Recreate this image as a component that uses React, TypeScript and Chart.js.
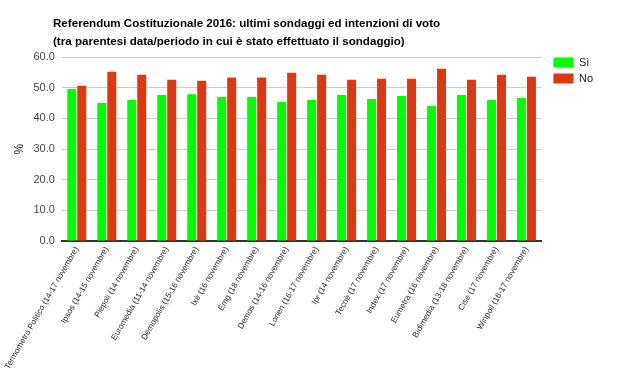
import React, { useEffect, useRef } from "react";
import { Chart, registerables } from "chart.js";

Chart.register(...registerables);

const categories = [
  "Termometro Politico (14-17 novembre)",
  "Ipsos (14-15 novembre)",
  "Piepoli (14 novembre)",
  "Euromedia (11-14 novembre)",
  "Demopolis (15-16 novembre)",
  "Ixè (16 novembre)",
  "Emg (18 novembre)",
  "Demos (14-16 novembre)",
  "Lorien (16-17 novembre)",
  "Ipr (14 novembre)",
  "Tecnè (17 novembre)",
  "Index (17 novembre)",
  "Eumetra (16 novembre)",
  "Bidimedia (13-18 novembre)",
  "Cise (17 novembre)",
  "Winpoll (16-17 novembre)",
];

const siValues = [49.6, 45.0, 46.0, 47.6, 47.9, 47.0, 47.0, 45.3, 46.0, 47.6, 46.3, 47.3, 44.0, 47.6, 46.0, 46.6];
const noValues = [50.6, 55.2, 54.2, 52.6, 52.3, 53.3, 53.3, 54.9, 54.2, 52.6, 52.9, 52.9, 56.2, 52.6, 54.2, 53.6];

const titleLines = [
  "Referendum Costituzionale 2016: ultimi sondaggi ed intenzioni di voto",
  "(tra parentesi data/periodo in cui è stato effettuato il sondaggio)",
];

const FONT = "Arial, 'Liberation Sans', sans-serif";

export default function App() {
  const ref = useRef<HTMLCanvasElement | null>(null);
  useEffect(() => {
    if (!ref.current) return;
    const titlePlugin = {
      id: "customTitle",
      afterDraw(chart: any) {
        const ctx = chart.ctx;
        ctx.save();
        ctx.font = `bold 11.6px ${FONT}`;
        ctx.fillStyle = "#000";
        ctx.textAlign = "left";
        ctx.textBaseline = "alphabetic";
        ctx.fillText(titleLines[0], 53, 27);
        ctx.fillText(titleLines[1], 53, 45);
        ctx.restore();
      },
    };
    const chart = new Chart(ref.current, {
      type: "bar",
      data: {
        labels: categories,
        datasets: [
          { label: "Sì", data: siValues, backgroundColor: "#00ff00", categoryPercentage: 0.667, barPercentage: 0.9 },
          { label: "No", data: noValues, backgroundColor: "#dc3912", categoryPercentage: 0.667, barPercentage: 0.9 },
        ],
      },
      options: {
        responsive: false,
        animation: false,
        devicePixelRatio: 1,
        layout: { padding: { top: 52, left: 0, right: 14, bottom: 7 } },
        plugins: {
          title: { display: false },
          tooltip: { enabled: false },
          legend: {
            position: "right",
            align: "start",
            labels: {
              boxWidth: 20,
              boxHeight: 10,
              padding: 5,
              color: "#222",
              font: { family: FONT, size: 11 },
            },
          },
        },
        scales: {
          x: {
            grid: { display: false, drawTicks: false },
            border: { display: true, color: "#333", width: 2 },
            ticks: {
              minRotation: 60,
              maxRotation: 60,
              autoSkip: false,
              padding: 4,
              color: "#222",
              font: { family: FONT, size: 8.2 },
            },
          },
          xTopGap: {
            type: "linear",
            axis: "x",
            position: "top",
            display: true,
            grid: { display: false, drawTicks: false },
            border: { display: false },
            ticks: { display: false },
            afterFit: (s: any) => { s.height = 5; },
          },
          y: {
            min: 0,
            max: 60,
            grid: { color: "#cccccc", drawTicks: false },
            border: { display: false },
            title: {
              display: true,
              text: "%",
              color: "#222",
              padding: { top: 12, bottom: 0 },
              font: { family: FONT, size: 12 },
            },
            ticks: {
              stepSize: 10,
              padding: 7,
              color: "#444",
              font: { family: FONT, size: 11 },
              callback: (v: any) => Number(v).toFixed(1),
            },
          },
          yRightGap: {
            type: "linear",
            axis: "y",
            position: "right",
            display: true,
            grid: { display: false, drawTicks: false },
            border: { display: false },
            ticks: { display: false },
            afterFit: (s: any) => { s.width = 7; },
          },
        },
      },
      plugins: [titlePlugin],
    });
    return () => chart.destroy();
  }, []);
  return (
    <div style={{ position: "fixed", left: 0, top: 0, width: 617, height: 382, background: "#fff" }}>
      <canvas ref={ref} width={617} height={382} style={{ width: 617, height: 382 }} />
    </div>
  );
}
